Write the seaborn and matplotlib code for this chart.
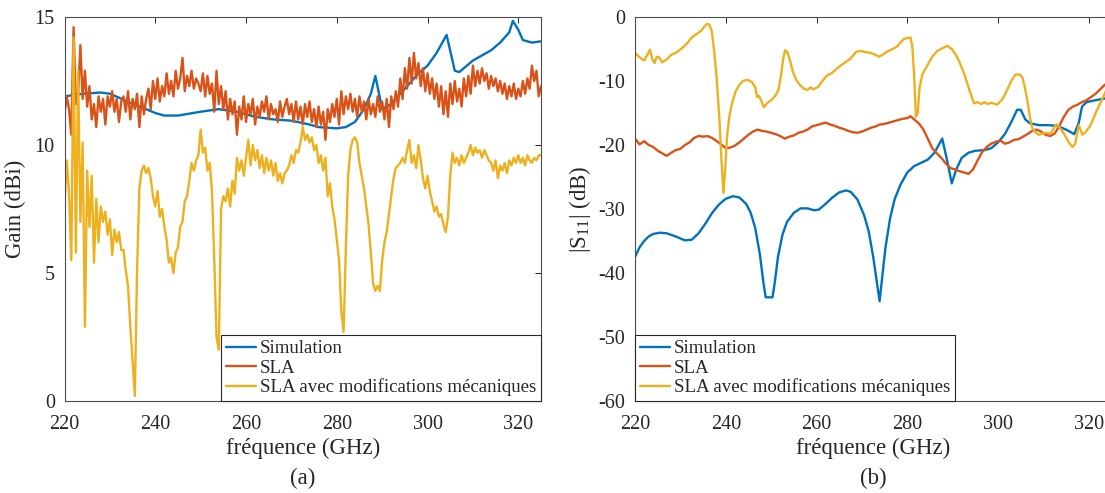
import numpy as np
import pandas as pd
import matplotlib
matplotlib.use('Agg')
import matplotlib.pyplot as plt
import seaborn as sns

sns.set_style('white')
plt.rcParams['font.family'] = ['Liberation Serif', 'DejaVu Serif']
plt.rcParams['mathtext.fontset'] = 'custom'
plt.rcParams['mathtext.rm'] = 'Liberation Serif'
plt.rcParams['axes.unicode_minus'] = False

C_SIM, C_SLA, C_MOD = '#0072BD', '#D95319', '#EDB120'
labels = ['Simulation', 'SLA', 'SLA avec modifications mécaniques']

# ---- (a) gain ----
gain_sim_f = [220, 224, 228, 230, 232, 235, 238, 240, 242, 245, 250, 254, 258, 262, 266, 270,
              274, 276, 280, 282, 284, 286, 287.5, 288.5, 290, 292, 295, 298, 300, 302, 304.2,
              306, 307, 310, 314, 316, 318, 318.8, 320, 321, 323, 325]
gain_sim = [11.9, 12.0, 12.05, 12.0, 11.85, 11.6, 11.4, 11.25, 11.15, 11.15, 11.3, 11.4, 11.3, 11.1,
            11.0, 10.95, 10.8, 10.7, 10.65, 10.7, 10.9, 11.4, 12.0, 12.7, 11.4, 11.6, 12.2, 12.8,
            13.1, 13.6, 14.3, 12.9, 12.85, 13.3, 13.7, 14.0, 14.4, 14.85, 14.5, 14.1, 14.0, 14.05]

# SLA measured gain, one value every 0.5 GHz from 220 to 325
gain_sla = [
    11.2, 11.9, 11.4, 10.4, 14.6, 11.6, 12.0, 13.9, 11.8, 12.9, 11.5, 12.3, 11.0, 11.6, 10.7, 11.9, 11.3, 11.8, 10.8, 11.9,
    11.5, 12.1, 11.3, 11.8, 10.9, 11.7, 11.9, 11.3, 12.1, 11.0, 11.8, 11.4, 12.0, 10.7, 11.9, 11.2, 11.8, 12.2, 11.4, 12.5,
    11.8, 12.6, 11.7, 12.3, 11.9, 12.8, 12.0, 12.5, 11.9, 12.9, 12.2, 12.6, 13.4, 12.1, 12.7, 12.3, 12.9, 12.2, 12.6, 12.4,
    12.1, 12.8, 11.9, 12.7, 12.0, 12.4, 11.3, 12.9, 11.6, 12.3, 11.4, 12.1, 11.0, 11.8, 11.2, 11.7, 10.4, 11.5, 11.0, 11.9,
    10.9, 11.6, 11.2, 11.8, 10.8, 11.5, 11.1, 11.7, 11.3, 11.9, 11.0, 11.6, 11.2, 11.4, 10.9, 11.7, 11.1, 11.5, 11.8, 11.2,
    11.6, 10.9, 11.7, 11.0, 11.5, 10.8, 11.6, 11.1, 11.7, 10.9, 11.4, 10.7, 11.5, 10.8, 11.3, 10.2, 11.4, 10.9, 11.6, 11.1,
    11.8, 10.8, 12.1, 11.2, 11.9, 11.4, 12.0, 11.3, 11.8, 11.1, 11.9, 11.3, 11.7, 11.0, 11.8, 11.2, 11.6, 11.1, 11.9, 11.3,
    11.7, 11.0, 11.8, 10.7, 11.9, 11.4, 12.1, 11.5, 12.6, 11.8, 13.0, 12.2, 13.4, 12.4, 13.6, 12.6, 13.2, 12.3, 13.0, 12.1,
    12.8, 12.0, 12.6, 11.8, 12.4, 11.5, 12.3, 11.2, 12.1, 11.1, 12.4, 11.6, 12.5, 11.7, 12.2, 11.5, 12.6, 11.9, 12.7, 12.0,
    13.1, 12.3, 12.9, 12.4, 13.0, 12.5, 12.8, 12.2, 12.7, 12.3, 12.6, 12.1, 12.5, 12.0, 12.4, 11.8, 12.3, 11.9, 12.4, 11.8,
    12.2, 11.9, 12.5, 12.0, 12.6, 12.2, 13.1, 12.5, 12.9, 11.9, 12.3]

# SLA with mechanical modifications, one value every 0.5 GHz from 220 to 325
gain_mod = [
    7.6, 9.4, 8.1, 5.5, 14.2, 5.8, 12.9, 7.0, 10.1, 2.9, 9.0, 6.8, 8.8, 5.4, 7.9, 6.2, 7.6, 7.0, 7.4, 6.5,
    7.1, 5.7, 6.7, 6.2, 6.6, 5.9, 5.9, 5.1, 4.5, 2.9, 1.6, 0.2, 5.2, 8.3, 9.0, 9.2, 8.9, 9.1, 8.7, 8.0,
    7.6, 8.2, 7.2, 7.5, 6.8, 6.3, 5.4, 5.6, 5.0, 5.8, 6.0, 6.8, 7.0, 7.8, 8.0, 8.6, 9.3, 9.0, 9.4, 9.6,
    10.6, 9.7, 9.9, 9.0, 9.3, 8.2, 5.5, 2.5, 2.0, 7.5, 8.0, 7.8, 8.3, 7.6, 8.6, 8.1, 9.5, 9.0, 9.4, 8.8,
    9.5, 10.2, 9.2, 10.0, 9.4, 9.8, 9.1, 9.6, 8.9, 9.5, 9.0, 9.4, 8.8, 9.3, 8.6, 8.9, 8.5, 8.9, 9.0, 9.2,
    9.6, 9.3, 9.8, 9.7, 10.1, 10.7, 10.2, 10.4, 10.1, 10.3, 9.8, 10.0, 9.3, 9.6, 9.0, 9.5, 8.0, 8.5, 7.6, 7.1,
    6.3, 5.5, 3.5, 2.7, 6.0, 8.8, 9.8, 10.2, 10.3, 10.1, 9.3, 8.8, 8.3, 7.6, 6.9, 5.8, 4.6, 4.3, 4.5, 4.3,
    5.5, 6.2, 6.6, 7.3, 8.0, 8.7, 9.1, 9.2, 9.3, 9.5, 9.3, 9.8, 10.2, 9.3, 9.6, 9.1, 10.0, 9.4, 8.7, 8.3,
    8.8, 8.2, 7.8, 7.4, 7.6, 7.2, 7.3, 6.9, 6.6, 7.2, 8.8, 9.7, 9.3, 9.5, 9.2, 9.6, 9.3, 9.5, 9.7, 10.0,
    9.6, 9.9, 9.7, 9.8, 9.5, 9.8, 9.6, 9.4, 9.3, 9.0, 9.4, 8.7, 9.2, 9.0, 9.3, 8.9, 9.4, 9.2, 9.5, 9.3,
    9.6, 9.3, 9.5, 9.2, 9.6, 9.4, 9.3, 9.5, 9.4, 9.6, 9.6]

freq_meas = np.arange(220, 325.01, 0.5)

# ---- (b) S11 ----
s11_sim_f = [220, 221, 222, 223, 224, 225.5, 227, 229, 231, 232.5, 234, 235.5, 237, 238.5, 240,
             241.6, 243, 244.5, 245.5, 246.5, 247.5, 248.3, 248.8, 250.3, 250.8, 251.5, 252.5,
             253.5, 255, 256.5, 258, 259.5, 260.5, 262, 263.5, 265, 266.5, 267.5, 269, 270.5,
             271.5, 272.5, 273.3, 273.9, 274.5, 275.2, 276.2, 277.2, 278.5, 280, 281.5, 283,
             284.5, 286, 287.7, 288.8, 289.8, 290.8, 292, 293.5, 295, 297, 298.5, 300, 301.5,
             303, 304.2, 305, 306, 307, 309, 311, 313, 315, 316.8, 317.8, 318.5, 319.5, 321.5,
             323.8, 325]
s11_sim = [-37.5, -36.0, -35.0, -34.3, -33.9, -33.7, -33.8, -34.3, -34.9, -34.8, -33.8, -32.3,
           -30.6, -29.3, -28.4, -28.0, -28.2, -29.2, -30.6, -33.0, -37.0, -41.5, -43.8, -43.8,
           -41.5, -37.5, -34.0, -32.0, -30.6, -29.9, -29.9, -30.2, -30.1, -29.2, -28.2, -27.4,
           -27.1, -27.3, -28.5, -31.0, -33.5, -37.5, -41.5, -44.4, -40.5, -36.0, -31.5, -28.5,
           -26.2, -24.3, -23.3, -22.8, -22.3, -21.2, -19.0, -22.5, -26.0, -23.8, -22.0, -21.2,
           -20.9, -20.8, -20.5, -19.6, -18.3, -16.3, -14.5, -14.5, -16.0, -16.6, -16.9, -16.9,
           -17.0, -17.6, -18.3, -16.5, -14.0, -13.3, -13.0, -12.7, -12.6]

s11_sla_f = [220, 221, 222, 223, 224, 225, 226, 227, 228, 229, 230, 231, 232, 233, 234, 235, 236,
             237, 238, 239, 240, 241, 242, 243, 244, 245, 246, 247, 248, 249, 250, 251, 252, 253,
             254, 255, 256, 257, 258, 259, 260, 261, 262, 263, 264, 265, 266, 267, 268, 269, 270,
             271, 272, 273, 274, 275, 276, 277, 278, 279, 280, 280.7, 281.5, 282.5, 283.5, 284.5,
             285.5, 286.5, 287.5, 288.5, 289.5, 290.5, 291.5, 292.5, 293.5, 294.5, 295.5, 296.5,
             297.5, 298.5, 299.5, 300.5, 301.5, 302.5, 303.5, 304.5, 305.5, 306.5, 307.5, 308.5,
             309.5, 310.5, 311.5, 312.5, 313.5, 314.5, 315.5, 316.5, 317.5, 318.5, 319.5, 320.5,
             321.5, 322.5, 323.5, 324.5, 325]
s11_sla = [-19.0, -19.9, -19.4, -20.0, -20.3, -20.9, -21.3, -21.7, -21.2, -20.8, -20.6, -20.0,
           -19.6, -18.9, -18.6, -18.7, -18.6, -18.9, -19.4, -19.9, -20.5, -20.4, -20.1, -19.6,
           -19.0, -18.4, -17.9, -17.6, -17.8, -17.9, -18.1, -18.3, -18.6, -19.0, -18.7, -18.5,
           -18.1, -17.9, -17.6, -17.1, -16.9, -16.7, -16.5, -16.8, -17.0, -17.3, -17.5, -17.8,
           -18.0, -18.1, -17.9, -17.6, -17.3, -17.1, -16.8, -16.7, -16.5, -16.3, -16.1, -15.9,
           -15.8, -15.5, -16.0, -16.6, -17.5, -19.0, -20.5, -21.3, -22.0, -22.9, -23.6, -23.8,
           -24.1, -24.3, -24.5, -23.8, -22.4, -21.1, -20.3, -19.8, -19.5, -19.3, -19.8, -19.6,
           -19.2, -19.1, -18.7, -18.3, -17.8, -17.6, -17.9, -18.4, -18.6, -18.2, -17.0, -15.6,
           -14.5, -14.0, -13.7, -13.3, -13.0, -12.5, -12.0, -11.3, -10.6, -10.2, -10.0]

s11_mod_f = [220, 221, 222, 222.8, 223.3, 223.8, 224.3, 224.8, 225.3, 226, 227, 228, 229, 230.3,
             231.5, 232.5, 233.5, 234.5, 235.3, 235.8, 236.4, 236.9, 237.4, 238, 238.6, 239.1,
             239.5, 239.9, 240.3, 240.8, 241.4, 242.2, 243, 243.8, 244.8, 245.8, 246.5, 246.9,
             247.3, 247.7, 248.4, 249.2, 250.2, 251, 251.6, 252.2, 252.7, 253.1, 253.6, 254.2,
             254.8, 255.5, 256.3, 257.2, 258, 258.7, 259.3, 260.4, 261.5, 262.4, 263.3, 264.3,
             265.3, 266.3, 267.3, 268.1, 268.8, 269.8, 270.8, 271.9, 272.9, 273.8, 274.8, 275.8,
             276.8, 277.8, 278.5, 279.3, 280.7, 281.1, 281.5, 281.9, 282.3, 282.7, 283.3, 284.4,
             285.5, 286.6, 287.7, 288.8, 289.8, 290.7, 291.6, 292.5, 293.6, 294.7, 295.5, 296.3,
             297, 297.6, 298.5, 299.8, 301, 302, 303, 303.8, 304.8, 305.4, 305.9, 306.4, 307,
             307.5, 308.2, 309, 310.3, 311.6, 312.4, 312.9, 313.6, 314.5, 315.5, 316.4, 317,
             317.8, 318.6, 319.4, 320.4, 321.5, 322.7, 323.8, 325]
s11_mod = [-5.6, -6.3, -6.8, -5.8, -5.1, -6.6, -7.2, -6.2, -6.3, -7.1, -6.6, -5.9, -5.6, -4.9,
           -4.1, -3.2, -2.7, -2.2, -1.5, -1.1, -1.2, -2.2, -5.0, -9.5, -16.0, -23.0, -27.5, -23.5,
           -18.5, -15.5, -13.4, -11.6, -10.6, -10.0, -9.8, -10.2, -11.0, -12.5, -12.3, -12.9,
           -14.1, -13.4, -12.9, -12.2, -11.4, -9.0, -6.3, -5.2, -5.5, -6.9, -8.6, -9.8, -10.6,
           -11.2, -11.4, -11.0, -11.3, -10.9, -9.8, -9.1, -8.8, -8.2, -7.6, -7.1, -6.6, -6.0,
           -5.4, -5.3, -5.5, -5.6, -5.9, -6.2, -5.8, -5.3, -5.0, -4.6, -4.0, -3.4, -3.2, -4.5,
           -9.0, -15.6, -15.0, -11.0, -9.0, -7.6, -6.2, -5.3, -4.9, -4.5, -5.0, -5.9, -7.2,
           -8.8, -11.2, -13.5, -13.3, -13.6, -13.3, -13.6, -13.4, -13.7, -12.8, -11.4, -9.9,
           -9.0, -9.0, -9.5, -11.0, -12.8, -15.5, -17.3, -18.0, -18.4, -18.1, -18.2, -17.2,
           -16.8, -17.3, -18.2, -19.5, -20.3, -19.8, -16.9, -18.4, -17.9, -16.9, -15.0, -13.2,
           -11.5, -10.6]

fig = plt.figure(figsize=(11.05, 4.93), dpi=100)
ax1 = fig.add_axes([64.5 / 1105, 1 - 401 / 493, 476.5 / 1105, 384 / 493])
ax2 = fig.add_axes([635 / 1105, 1 - 401 / 493, 476.5 / 1105, 384 / 493])

lw = 1.7
sns.lineplot(x=gain_sim_f, y=gain_sim, ax=ax1, color=C_SIM, lw=lw, label=labels[0], estimator=None)
sns.lineplot(x=freq_meas, y=gain_sla, ax=ax1, color=C_SLA, lw=lw, label=labels[1], estimator=None)
sns.lineplot(x=freq_meas, y=gain_mod, ax=ax1, color=C_MOD, lw=lw, label=labels[2], estimator=None)

sns.lineplot(x=s11_sim_f, y=s11_sim, ax=ax2, color=C_SIM, lw=lw, label=labels[0], estimator=None)
sns.lineplot(x=s11_sla_f, y=s11_sla, ax=ax2, color=C_SLA, lw=lw, label=labels[1], estimator=None)
sns.lineplot(x=s11_mod_f, y=s11_mod, ax=ax2, color=C_MOD, lw=lw, label=labels[2], estimator=None)

ax1.set_ylim(0, 15)
ax1.set_yticks([0, 5, 10, 15])
ax2.set_ylim(-60, 0)
ax2.set_yticks(range(-60, 1, 10))
ax1.set_ylabel('Gain (dBi)', fontsize=16.5, labelpad=6)
ax2.set_ylabel(r'|S$_{11}$| (dB)', fontsize=16.5, labelpad=4)

for ax, tag in [(ax1, '(a)'), (ax2, '(b)')]:
    ax.set_xlim(220, 325)
    ax.set_xticks(range(220, 321, 20))
    ax.set_xlabel('fréquence (GHz)', fontsize=16.5, labelpad=3)
    ax.tick_params(direction='in', length=4, width=0.7, colors='#262626', labelsize=14.5,
                   top=True, right=True)
    ax.tick_params(axis='x', pad=10)
    ax.tick_params(axis='y', pad=7)
    for s in ax.spines.values():
        s.set_color('#4d4d4d')
        s.set_linewidth(0.8)
    ax.text(0.5, -0.175, tag, transform=ax.transAxes, ha='center', va='top', fontsize=16.5)

leg_kw = dict(fontsize=13.6, frameon=True, fancybox=False, framealpha=1, edgecolor='#262626',
              borderaxespad=0, handlelength=1.6, handletextpad=0.2, labelspacing=0.1,
              borderpad=0.25)
l1 = ax1.legend(loc='lower right', **leg_kw)
l2 = ax2.legend(loc='lower left', **leg_kw)
for l in (l1, l2):
    l.get_frame().set_linewidth(0.8)

fig.savefig('out.png', dpi=100)
